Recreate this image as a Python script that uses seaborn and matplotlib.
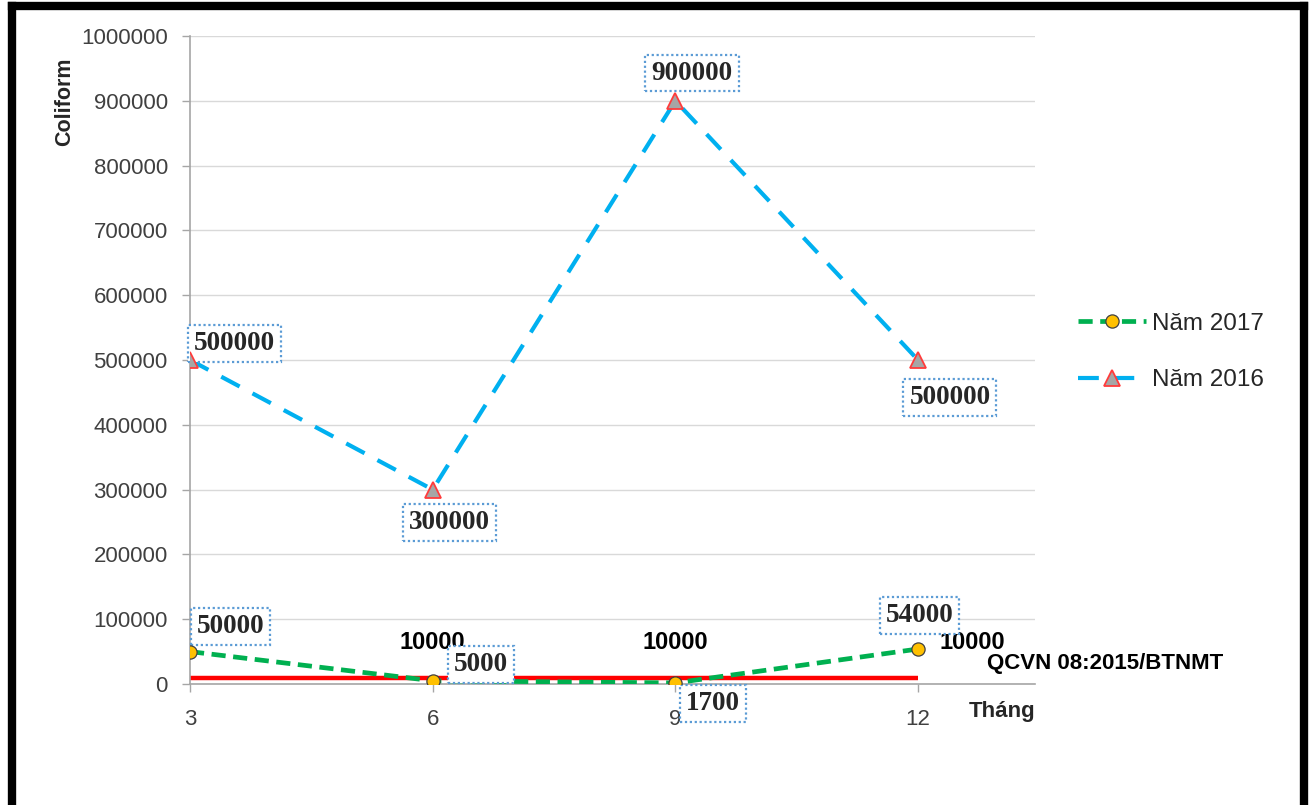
import matplotlib
matplotlib.use('Agg')
import matplotlib.pyplot as plt
import matplotlib.lines as mlines
import seaborn as sns
import pandas as pd

# Data
months = [3, 6, 9, 12]
coliform_2017 = [50000, 5000, 1700, 54000]
coliform_2016 = [500000, 300000, 900000, 500000]
qcvn_limit = [10000, 10000, 10000, 10000]
qcvn_name = 'QCVN 08:2015/BTNMT'
yticks = list(range(0, 1000001, 100000))

sns.set_theme(style='white')
plt.rcParams['font.family'] = ['Liberation Sans', 'DejaVu Sans']

fig = plt.figure(figsize=(13.14, 8.05), dpi=100)
ax = fig.add_axes([190 / 1314, 121 / 805, (1035 - 190) / 1314, (684 - 36) / 805])

df = pd.DataFrame({'month': months, 'y2017': coliform_2017,
                   'y2016': coliform_2016, 'qcvn': qcvn_limit})

# QCVN limit line
sns.lineplot(data=df, x='month', y='qcvn', ax=ax, color='#FF0000', lw=3.2,
             solid_capstyle='butt', zorder=2)
# 2016 series
sns.lineplot(data=df, x='month', y='y2016', ax=ax, color='#00B0F0', lw=3,
             zorder=3)
ax.lines[-1].set_dashes([5, 3.5])
ax.plot(df['month'], df['y2016'], ls='none', marker='^', ms=11,
        mfc='#A6A6A6', mec='#FF3B3B', mew=1.3, zorder=10)
# 2017 series
sns.lineplot(data=df, x='month', y='y2017', ax=ax, color='#00B050', lw=3.4,
             zorder=4)
ax.lines[-1].set_dashes([3, 1.6])
ax.plot(df['month'], df['y2017'], ls='none', marker='o', ms=9.5,
        mfc='#FFC000', mec='#404040', mew=0.9, zorder=10)

ax.set_xlim(3, 3 + (1035 - 190) / (728 / 9))
ax.set_ylim(0, 1000000)
ax.set_xticks(months)
ax.set_yticks(yticks)
ax.set_yticklabels([str(v) for v in yticks])
ax.tick_params(axis='both', labelsize=16, labelcolor='#404040', color='#A6A6A6',
               length=6, width=1, direction='out', bottom=True, left=True)
ax.tick_params(axis='x', pad=12)
ax.tick_params(axis='y', pad=10)
ax.grid(axis='y', color='#D9D9D9', lw=1)
ax.set_axisbelow(True)
for s in ['top', 'right']:
    ax.spines[s].set_visible(False)
for s in ['left', 'bottom']:
    ax.spines[s].set_color('#A6A6A6')
    ax.spines[s].set_linewidth(1.2)
ax.set_xlabel('')
ax.set_ylabel('')

# Data labels (boxed, serif bold)
box = dict(boxstyle='square,pad=0.22', fc='white', ec='#5B9BD5', lw=1.6, ls=(0, (1, 1.2)))
serif = dict(fontsize=19.5, fontweight='bold', family='Liberation Serif',
             ha='center', va='center', textcoords='offset points',
             annotation_clip=False, zorder=8)
offs_2016 = [(32, 12), (12, -24), (12, 20), (23, -27)]
offs_2017 = [(29, 18), (35, 12), (27, -15), (1, 24)]
for x, y, o in zip(months, coliform_2016, offs_2016):
    ax.annotate(str(y), (x, y), xytext=o, bbox=box, **serif)
for x, y, o in zip(months, coliform_2017, offs_2017):
    ax.annotate(str(y), (x, y), xytext=o, bbox=box, **serif)

# QCVN labels
sans = dict(fontweight='bold', color='#000000', va='center',
            textcoords='offset points', annotation_clip=False, zorder=7)
for x, y, o in zip(months[1:], qcvn_limit[1:], [(0, 25), (0, 25), (39, 25)]):
    ax.annotate(str(y), (x, y), xytext=o, ha='center', fontsize=17, **sans)
ax.annotate(qcvn_name, (months[-1], qcvn_limit[-1]), xytext=(50, 10), ha='left',
            fontsize=16, **sans)

# Axis titles
fig.text(65 / 1314, 1 - 102 / 805, 'Coliform', rotation=90, fontsize=15.5,
         fontweight='bold', ha='center', va='center')
fig.text(1002 / 1314, 1 - 711 / 805, 'Tháng', fontsize=16,
         fontweight='bold', ha='center', va='center')

# Legend
h2017 = mlines.Line2D([], [], color='#00B050', lw=3.4, dashes=[3, 1.6], marker='o',
                      ms=9.5, mfc='#FFC000', mec='#404040', mew=0.9)
h2016 = mlines.Line2D([], [], color='#00B0F0', lw=3, dashes=[5, 3.5], marker='^',
                      ms=11, mfc='#A6A6A6', mec='#FF3B3B', mew=1.3)
fig.legend([h2017, h2016], ['Năm 2017', 'Năm 2016'], loc='center left',
           bbox_to_anchor=(1078 / 1314, 1 - 352 / 805), frameon=False,
           fontsize=17.5, handlelength=2.8, handletextpad=0.25, labelspacing=1.4,
           borderpad=0, borderaxespad=0)

# Outer black frame (left, top, right)
fig.add_artist(mlines.Line2D([12 / 1314, 12 / 1314], [0, 1 - 6 / 805], color='black',
                             lw=6, transform=fig.transFigure, solid_capstyle='projecting'))
fig.add_artist(mlines.Line2D([12 / 1314, 1304 / 1314], [1 - 6 / 805, 1 - 6 / 805],
                             color='black', lw=6, transform=fig.transFigure,
                             solid_capstyle='projecting'))
fig.add_artist(mlines.Line2D([1304 / 1314, 1304 / 1314], [0, 1 - 6 / 805], color='black',
                             lw=6, transform=fig.transFigure, solid_capstyle='projecting'))

fig.savefig('out.png', dpi=100)
